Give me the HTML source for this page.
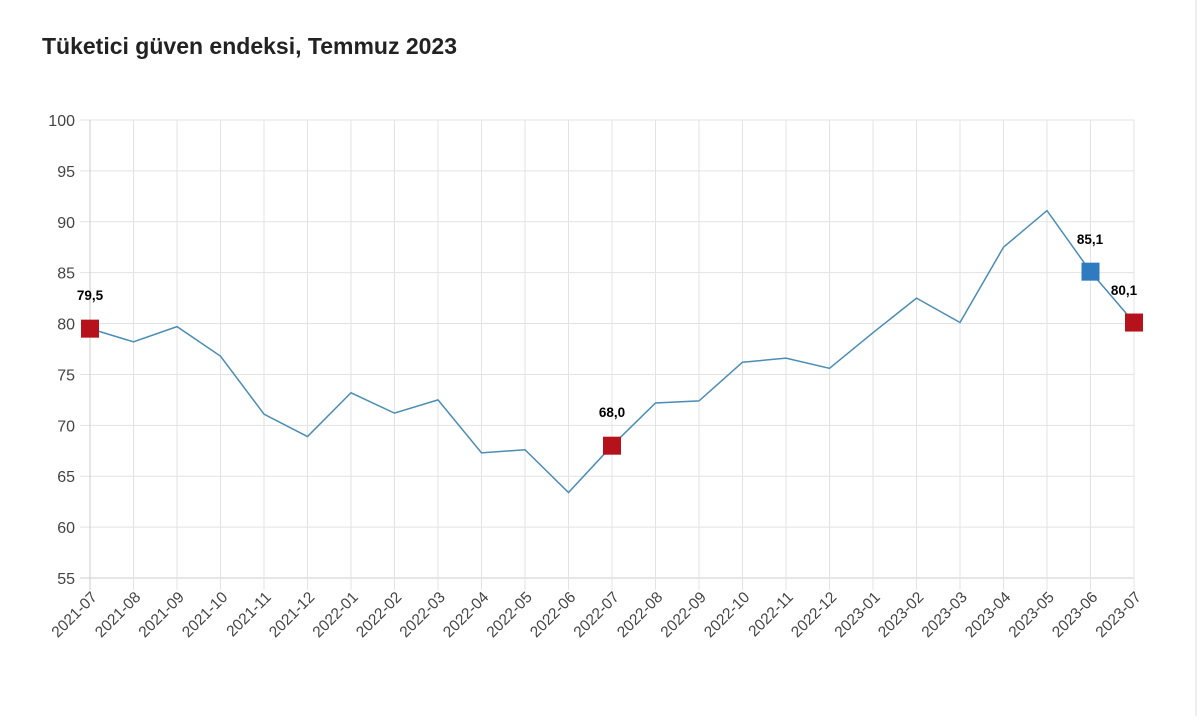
<!DOCTYPE html>
<html><head><meta charset="utf-8"><style>body{margin:0;background:#fff;width:1200px;height:716px;overflow:hidden}</style></head><body>
<svg width="1200" height="716" xmlns="http://www.w3.org/2000/svg" font-family="Liberation Sans, sans-serif">
<rect width="1200" height="716" fill="#fff"/>
<line x1="1196" y1="0" x2="1196" y2="716" stroke="#eee" stroke-width="2"/>
<text x="42" y="54" font-size="23" font-weight="bold" fill="#222">Tüketici güven endeksi, Temmuz 2023</text>
<g id="g"></g>
</svg>
<script>
const vals=[79.5,78.2,79.7,76.8,71.1,68.9,73.2,71.2,72.5,67.3,67.6,63.4,68.0,72.2,72.4,76.2,76.6,75.6,79.1,82.5,80.1,87.5,91.1,85.1,80.1];
const labels=["2021-07","2021-08","2021-09","2021-10","2021-11","2021-12","2022-01","2022-02","2022-03","2022-04","2022-05","2022-06","2022-07","2022-08","2022-09","2022-10","2022-11","2022-12","2023-01","2023-02","2023-03","2023-04","2023-05","2023-06","2023-07"];
const X=i=>90+43.5*i, Y=v=>120+(100-v)*10.178;
let s="";
for(let v=55;v<=100;v+=5){const y=Y(v);s+=`<line x1="80" y1="${y}" x2="1134" y2="${y}" stroke="${v==55?'#ccc':'#e3e3e3'}" stroke-width="1"/><text x="75" y="${y+6}" font-size="16" fill="#444" text-anchor="end">${v}</text>`;}
labels.forEach((l,i)=>{const x=X(i);s+=`<line x1="${x}" y1="120" x2="${x}" y2="590" stroke="${i==0?'#ccc':'#e3e3e3'}"/><text transform="translate(${x+8},598) rotate(-45)" font-size="15.5" fill="#444" text-anchor="end">${l}</text>`;});
s+=`<polyline fill="none" stroke="#4a8db5" stroke-width="1.5" points="${vals.map((v,i)=>X(i)+','+Y(v)).join(' ')}"/>`;
const mk=[[0,'#b5121b'],[12,'#b5121b'],[23,'#2e7cbf'],[24,'#b5121b']];
mk.forEach(([i,c])=>{const x=X(i),y=Y(vals[i]);s+=`<rect x="${x-9}" y="${y-9}" width="18" height="18" fill="${c}"/>`;});
s+=`<text x="90" y="300" font-size="13.5" font-weight="bold" text-anchor="middle">79,5</text>`;
s+=`<text x="612" y="417" font-size="13.5" font-weight="bold" text-anchor="middle">68,0</text>`;
s+=`<text x="1090" y="244" font-size="13.5" font-weight="bold" text-anchor="middle">85,1</text>`;
s+=`<text x="1124" y="295" font-size="13.5" font-weight="bold" text-anchor="middle">80,1</text>`;
document.getElementById('g').innerHTML=s;
</script>
</body></html>
